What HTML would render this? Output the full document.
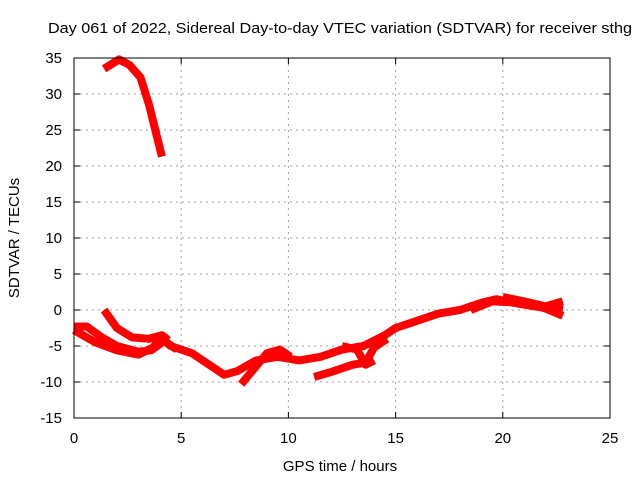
<!DOCTYPE html>
<html><head><meta charset="utf-8"><style>
body{margin:0;background:#fff}
svg{display:block;font-family:"Liberation Sans",sans-serif;font-size:14px}
</style></head><body>
<svg id="c" width="640" height="480">
<rect x="0" y="0" width="640" height="480" fill="#fff"/>
<text x="48" y="33" textLength="584" lengthAdjust="spacingAndGlyphs" style="font-size:15px">Day 061 of 2022, Sidereal Day-to-day VTEC variation (SDTVAR) for receiver sthg</text>
<text x="340" y="471" text-anchor="middle" style="font-size:15px">GPS time / hours</text>
<text transform="translate(19,238) rotate(-90)" text-anchor="middle" style="font-size:15px">SDTVAR / TECUs</text>
<g id="grid"></g><g id="ticks"></g><g id="marks"></g>
<rect x="74" y="58" width="536" height="360" fill="none" stroke="#000" stroke-width="1"/>
</svg>
<script>
const xTicks=[0,5,10,15,20,25];
const yTicks=[-15,-10,-5,0,5,10,15,20,25,30,35];
const trackTop=[[1.4,33.5],[2.1,34.8],[2.6,34],[3.1,32.3],[3.5,28.5],[4.1,21.3]];
const trackMain=[[1.4,0],[2,-2.5],[2.7,-3.8],[3.5,-4],[4,-3.6],[4.5,-5],[5.5,-6],[6.5,-8],[7,-9],[7.6,-8.5],[8.5,-7],[9.5,-6.5],[10.5,-7],[11.5,-6.5],[12.5,-5.5],[13.5,-5],[14.5,-3.5],[15,-2.5],[16,-1.5],[17,-0.5],[18,0],[19,1],[19.7,1.5],[20.5,1],[21.5,0.5],[22.8,0]];
const trackB=[[0,-2.3],[0.6,-2.3],[1.3,-3.8],[2,-5],[3,-5.8],[3.6,-5.6],[4.2,-4.3],[4.8,-5.5]];
const trackD=[[0,-2.8],[1,-4.5],[2,-5.6],[3,-6.2],[3.7,-5.2],[4.1,-3.5],[4.4,-4.2]];
const trackF=[[7.8,-10.3],[8.3,-8.5],[9,-6],[9.6,-5.5],[10.1,-6.5]];
const trackG=[[11.2,-9.3],[12,-8.6],[13,-7.6],[13.6,-7.3],[14,-5.2],[14.6,-4]];
const trackH=[[12.5,-5],[13.2,-5.5],[13.6,-7.6],[14,-7]];
const trackJ=[[18.5,0],[19.5,1.2],[21,1],[22,0.2],[22.8,-0.8]];
const trackK=[[20,1.8],[21,1.2],[22,0.5],[22.8,1.2]];
const X=h=>74+h*536/25, Y=v=>58+(35-v)*360/50;
const NS="http://www.w3.org/2000/svg";
function mk(t,a,p){const e=document.createElementNS(NS,t);for(const k in a)e.setAttribute(k,a[k]);p.appendChild(e);return e;}
const g=document.getElementById('grid'),tk=document.getElementById('ticks'),m=document.getElementById('marks');
xTicks.forEach(t=>{
 if(t>0&&t<25){const l=mk('line',{x1:X(t),x2:X(t),y1:58,y2:418,stroke:'#a0a0a0','stroke-dasharray':'2,4'},g);
 
 }
 mk('line',{x1:X(t),x2:X(t),y1:418,y2:412,stroke:'#000'},tk);
 mk('line',{x1:X(t),x2:X(t),y1:58,y2:64,stroke:'#000'},tk);
 const s=mk('text',{x:X(t),y:443,'text-anchor':'middle',style:'font-size:15px'},tk);s.textContent=t;
 
 
});
yTicks.forEach(t=>{
 if(t>-15&&t<35){const l=mk('line',{x1:74,x2:610,y1:Y(t),y2:Y(t),stroke:'#a0a0a0','stroke-dasharray':'2,4'},g);
 
 }
 mk('line',{x1:74,x2:80,y1:Y(t),y2:Y(t),stroke:'#000'},tk);
 mk('line',{x1:604,x2:610,y1:Y(t),y2:Y(t),stroke:'#000'},tk);
 const s=mk('text',{x:62,y:Y(t)+5,'text-anchor':'end',style:'font-size:15px'},tk);s.textContent=t;
 
 
});
[trackTop,trackMain,trackB,trackD,trackF,trackG,trackH,trackJ,trackK].forEach(tr=>{
 const p=mk('polyline',{points:tr.map(d=>X(d[0])+','+Y(d[1])).join(' '),fill:'none',stroke:'#ff0000','stroke-width':8,'stroke-linejoin':'round'},m);
 
 
});
</script>
</body></html>
